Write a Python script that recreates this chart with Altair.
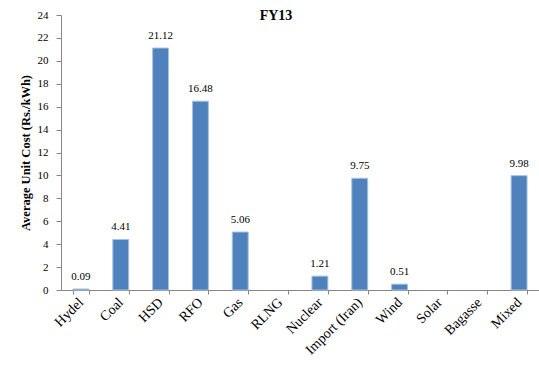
import altair as alt
import pandas as pd

# FY13 average unit cost of generation by fuel type (Rs./kWh)
fuels = ["Hydel", "Coal", "HSD", "RFO", "Gas", "RLNG", "Nuclear",
         "Import (Iran)", "Wind", "Solar", "Bagasse", "Mixed"]
costs = [0.09, 4.41, 21.12, 16.48, 5.06, None, 1.21, 9.75, 0.51, None, None, 9.98]
y_ticks = list(range(0, 25, 2))

df = pd.DataFrame({"fuel": fuels, "cost": costs})

FONT = "Liberation Serif"

x = alt.X("fuel:N", title=None,
          scale=alt.Scale(domain=fuels, paddingInner=0.6, paddingOuter=0.3),
          axis=alt.Axis(labelAngle=-45, labelFontSize=14, labelColor="#000000",
                        labelFont=FONT, tickBand="extent", tickSize=4,
                        labelPadding=1, labelOffset=-5,
                        domainColor="#868686", tickColor="#868686"))
y = alt.Y("cost:Q", title="Average Unit Cost (Rs./kWh)",
          scale=alt.Scale(domain=[0, 24]),
          axis=alt.Axis(values=y_ticks, grid=False, tickSize=5,
                        labelOverlap=False,
                        labelPadding=8, labelFontSize=11, labelFont=FONT,
                        labelColor="#000000", titleFont=FONT, titleFontSize=12.5,
                        titleFontWeight="bold", titleColor="#000000",
                        titlePadding=5, domainColor="#868686", tickColor="#868686"))

base = alt.Chart(df).transform_filter("isValid(datum.cost)").encode(x=x, y=y)

bars = base.mark_bar(color="#4F81BD", stroke="#A9C2E0", strokeWidth=1)

labels = base.mark_text(baseline="bottom", dy=-7, font=FONT, fontSize=11,
                        color="#000000").encode(
    text=alt.Text("cost:Q", format=".2f"),
)

chart = (bars + labels).properties(
    width=478,
    height=275,
    autosize="none",
    padding={"left": 61, "top": 15, "right": 0, "bottom": 78},
    title=alt.TitleParams("FY13", font=FONT, fontSize=14, fontWeight="bold",
                          color="#000000", offset=-14, dx=-24),
).configure_view(stroke=None)

chart.save("out.html", embed_options={"renderer": "svg", "actions": False})
